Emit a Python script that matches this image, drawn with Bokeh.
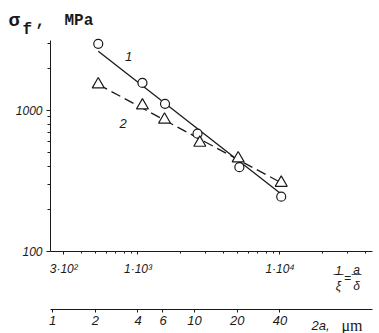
from bokeh.plotting import figure
from bokeh.models import LogAxis, FixedTicker, Range1d, LogScale, Label
from bokeh.embed import file_html
from bokeh.resources import INLINE

# ---- data (2a in µm, sigma_f in MPa) ----
size_2a_circ = [2.1, 4.3, 6.2, 10.5, 20.7, 40.8]
sigma_1 = [2970, 1570, 1115, 685, 396, 245]
size_2a_tri = [2.1, 4.3, 6.15, 10.9, 20.3, 40.8]
sigma_2 = [1530, 1085, 860, 590, 457, 307]
fit1_x = [2.1, 40.8]
fit1_y = [2630, 256]
fit2_x = [2.1, 40.8]
fit2_y = [1530, 307]

# ---- axes ----
xi_major = [300, 1000, 10000]
xi_labels = ["3·10²", "1·10³", "1·10⁴"]
xi_minor = [400, 500, 600, 700, 800, 900, 2000, 3000, 4000, 5000, 6000, 7000, 8000, 9000, 20000, 30000, 40000]
a2_ticks = [1, 2, 4, 6, 10, 20, 40]
a2_labels = ["1", "2", "4", "6", "10", "20", "40"]
y_major = [100, 1000]
y_labels = ["100", "1000"]
y_minor = [200, 300, 400, 500, 600, 700, 800, 900, 2000, 3000]
XI_PER_2A = 250  # 1/xi = a/delta

W, H = 379, 333
# full-canvas frame; log scales: page_x = 52 + 142*log10(2a), page_y = 251 - 141*(log10(s)-2)
X0, X1 = 10 ** (-52 / 142), 10 ** ((W - 52) / 142)
Y0, Y1 = 10 ** (2 - (H - 251) / 141), 10 ** (2 + 251 / 141)
AX_X0, AX_X1 = 10 ** (-2 / 142), 10 ** (320 / 142)      # axis extent left..right
AX_Y_TOP = 10 ** (2 + 211 / 141)                           # y-axis top
AX2_Y = 10 ** (2 - 58 / 141)                                # second x axis position

INK = "#1a1a1a"
SANS = "Liberation Sans"
MONO = "Liberation Mono"

p = figure(width=W, height=H, x_axis_type="log", y_axis_type="log",
           x_range=Range1d(X0, X1), y_range=Range1d(Y0, Y1),
           x_axis_location=None, y_axis_location=None,
           output_backend="svg", toolbar_location=None,
           min_border=0, min_border_left=0, min_border_right=0,
           min_border_top=0, min_border_bottom=0)
p.outline_line_color = None
p.grid.visible = False
p.background_fill_color = "white"
p.border_fill_color = "white"

p.extra_x_ranges = {"xi": Range1d(X0 * XI_PER_2A, X1 * XI_PER_2A)}
p.extra_x_scales = {"xi": LogScale()}


def style_axis(ax, fs="12px"):
    ax.axis_line_color = INK
    ax.axis_line_width = 1
    ax.major_tick_line_color = INK
    ax.minor_tick_line_color = INK
    ax.major_label_text_font = SANS
    ax.major_label_text_font_style = "italic"
    ax.major_label_text_font_size = fs
    ax.major_label_text_color = INK
    ax.major_tick_in = 0
    ax.minor_tick_in = 0


ax1 = LogAxis(x_range_name="xi", fixed_location=100,
              bounds=(AX_X0 * XI_PER_2A, AX_X1 * XI_PER_2A),
              ticker=FixedTicker(ticks=xi_major, minor_ticks=xi_minor),
              major_label_overrides=dict(zip(xi_major, xi_labels)))
style_axis(ax1, "12px")
ax1.major_tick_out = 3
ax1.minor_tick_out = 2
ax1.major_label_standoff = 7
p.add_layout(ax1, "below")

ax2 = LogAxis(fixed_location=AX2_Y, bounds=(AX_X0, AX_X1),
              ticker=FixedTicker(ticks=a2_ticks, minor_ticks=[]),
              major_label_overrides=dict(zip(a2_ticks, a2_labels)))
style_axis(ax2, "13px")
ax2.major_tick_out = 3
ax2.minor_tick_out = 0
ax2.major_label_standoff = 3
p.add_layout(ax2, "below")

yax = LogAxis(fixed_location=AX_X0, bounds=(100, AX_Y_TOP),
              ticker=FixedTicker(ticks=y_major, minor_ticks=y_minor),
              major_label_overrides=dict(zip(y_major, y_labels)))
style_axis(yax, "12px")
yax.major_tick_out = 4
yax.minor_tick_out = 3
yax.major_label_standoff = 4
p.add_layout(yax, "left")

# fitted lines
p.line(fit1_x, fit1_y, line_color=INK, line_width=1.3)
p.line(fit2_x, fit2_y, line_color=INK, line_width=1.3, line_dash="10 5")

# markers
p.scatter(size_2a_circ, sigma_1, marker="circle", size=9, fill_color="white",
          line_color=INK, line_width=1.2)
p.scatter(size_2a_tri, sigma_2, marker="triangle", size=12, fill_color="white",
          line_color=INK, line_width=1.2)

# curve numbers
for tx, ty, tt in [(3.43, 2415, "1"), (3.14, 809, "2")]:
    p.add_layout(Label(x=tx, y=ty, text=tt, text_font=SANS, text_font_style="italic",
                       text_font_size="13px", text_align="center", text_baseline="middle",
                       text_color=INK))


def slabel(px, py, text, font=SANS, style="italic", size="13px", align="left", baseline="alphabetic"):
    # px, py: canvas pixel position from the top-left corner
    p.add_layout(Label(x=px, y=H - py, x_units="screen", y_units="screen",
                       text=text, text_font=font, text_font_style=style,
                       text_font_size=size, text_align=align, text_baseline=baseline,
                       text_color=INK))


# y-axis title: sigma_f, MPa
slabel(8, 20, "σ", font=MONO, style="bold", size="19px")
slabel(22, 29, "f", font=MONO, style="bold", size="16px")
slabel(35, 20, ",", font=MONO, style="bold", size="16px")
slabel(64, 20, "MPa", font=MONO, style="bold", size="16px")

# 1/xi = a/delta
slabel(338, 270, "1", size="12px", align="center")
slabel(338, 285, "ξ", size="12px", align="center")
slabel(347, 277, "=", size="12px", align="center")
slabel(356, 269, "a", size="12px", align="center")
slabel(356, 285, "δ", size="12px", align="center")
slabel(338, 272.5, "—", style="normal", size="10px", align="center", baseline="middle")
slabel(356, 272.5, "—", style="normal", size="10px", align="center", baseline="middle")

# 2a, µm
slabel(311, 325, "2a,", size="13px")
slabel(341, 325, "μm", font="Liberation Serif", style="normal", size="16px")

open("out.html", "w").write(file_html(p, INLINE))
